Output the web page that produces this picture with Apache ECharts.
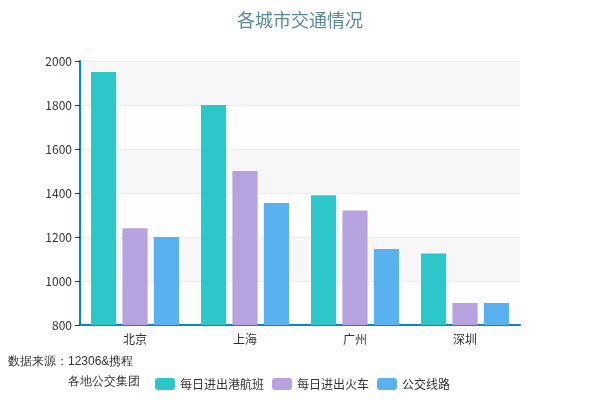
<!DOCTYPE html>
<html>
<head>
<meta charset="utf-8">
<script src="https://cdn.jsdelivr.net/npm/echarts@6/dist/echarts.min.js"></script>
</head>
<body style="margin:0">
<div id="main" style="width:600px;height:400px;"></div>
<script type="text/javascript">
	var cities = ['北京', '上海', '广州', '深圳'];
	var flights = [1950, 1800, 1390, 1125];
	var trains = [1240, 1500, 1320, 900];
	var buses = [1200, 1355, 1145, 900];

	var myChart = echarts.init(document.getElementById('main'));
	myChart.setOption({
		textStyle: { fontFamily: 'Noto Sans CJK SC' },
		title: {
			text: '各城市交通情况',
			left: 'center',
			top: 6,
			textStyle: { color: '#5a8a9a', fontSize: 18, fontWeight: 'normal' }
		},
		legend: {
			data: ['每日进出港航班', '每日进出火车', '公交线路'],
			left: 150,
			top: 373,
			itemWidth: 20,
			itemHeight: 12,
			textStyle: { color: '#333', fontSize: 12 }
		},
		graphic: [
			{ type: 'text', left: 8, top: 356, style: { text: '数据来源：12306&携程', fill: '#333', fontSize: 12 } },
			{ type: 'text', left: 68, top: 376, style: { text: '各地公交集团', fill: '#333', fontSize: 12 } }
		],
		grid: { left: 80, right: 80, top: 61, bottom: 75 },
		xAxis: {
			type: 'category',
			data: cities,
			axisLine: { lineStyle: { color: '#008acd', width: 2 } },
			axisTick: { lineStyle: { color: '#333' } },
			axisLabel: { color: '#333' }
		},
		yAxis: {
			type: 'value',
			min: 800, max: 2000, interval: 200,
			axisLine: { show: true, lineStyle: { color: '#008acd', width: 2 } },
			axisTick: { show: true, lineStyle: { color: '#333' } },
			axisLabel: { color: '#333', formatter: function (v) { return String(v); } },
			splitLine: { lineStyle: { color: '#eee' } },
			splitArea: { show: true, areaStyle: { color: ['rgba(250,250,250,0.3)', 'rgba(200,200,200,0.15)'] } }
		},
		series: [
			{ name: '每日进出港航班', type: 'bar', data: flights, itemStyle: { color: '#2ec7c9' }, barGap: '25%', barCategoryGap: '20%' },
			{ name: '每日进出火车', type: 'bar', data: trains, itemStyle: { color: '#b6a2de' } },
			{ name: '公交线路', type: 'bar', data: buses, itemStyle: { color: '#5ab1ef' } }
		]
	});
</script>
</body>
</html>
